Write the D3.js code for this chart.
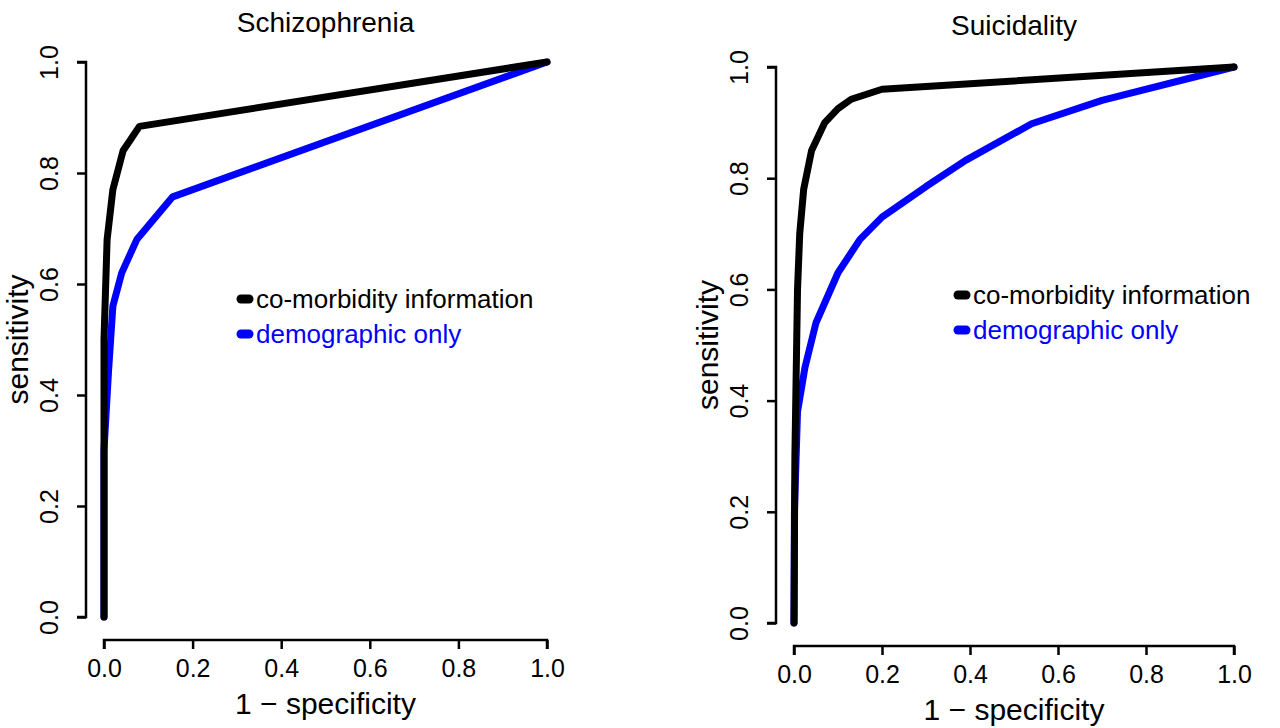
<!DOCTYPE html>
<html><head><meta charset="utf-8">
<script src="https://cdn.jsdelivr.net/npm/d3@7"></script>
<style>body{margin:0;background:#fff}text{font-family:"Liberation Sans",Arial,sans-serif}</style>
</head><body><svg id="c" width="1280" height="728"></svg>
<script>
'use strict'
var ticks = [0, 0.2, 0.4, 0.6, 0.8, 1.0]
var schizoComorb = [[0, 0], [0, 0.5], [0.007, 0.68], [0.02, 0.77], [0.043, 0.84], [0.08, 0.884], [1, 1]]
var schizoDemo = [[0, 0], [0, 0.3], [0.01, 0.44], [0.02, 0.56], [0.04, 0.62], [0.074, 0.68], [0.155, 0.757], [1, 1]]
var suicComorb = [[0, 0], [0.002, 0.3], [0.008, 0.6], [0.013, 0.7], [0.022, 0.78], [0.04, 0.85], [0.07, 0.9], [0.1, 0.925], [0.13, 0.942], [0.2, 0.96], [1, 1]]
var suicDemo = [[0, 0], [0.001, 0.2], [0.008, 0.38], [0.025, 0.46], [0.05, 0.54], [0.1, 0.63], [0.15, 0.69], [0.2, 0.73], [0.3, 0.785], [0.39, 0.832], [0.54, 0.898], [0.7, 0.94], [1, 1]]
var legendLabels = ['co-morbidity information', 'demographic only']
var colors = ['#000', '#0000ff']

var svg = d3.select('#c')

function panel (o) {
  var x = d3.scaleLinear().domain([0, 1]).range([o.x0, o.x1])
  var y = d3.scaleLinear().domain([0, 1]).range([o.y0, o.y1])
  var g = svg.append('g')

  var ya = g.append('g').attr('transform', 'translate(' + (o.x0 - 18) + ',0)')
    .call(d3.axisLeft(y).tickValues(ticks).tickFormat(d3.format('.1f')).tickSize(9).tickPadding(8))
  var xa = g.append('g').attr('transform', 'translate(0,' + (o.y0 + 23) + ')')
    .call(d3.axisBottom(x).tickValues(ticks).tickFormat(d3.format('.1f')).tickSize(9).tickPadding(10))
  ;[ya, xa].forEach(a => {
    a.attr('font-size', null)
    a.select('.domain').attr('stroke-width', 2.5)
    a.selectAll('.tick line').attr('stroke-width', 2.5)
    a.selectAll('text').style('font-size', '25px').attr('fill', '#000')
  })
  ya.selectAll('.tick text').attr('text-anchor', 'middle')
    .attr('x', 0).attr('y', 0).attr('dy', '0.35em')
    .attr('transform', 'translate(-37,0) rotate(-90)')
  ya.select('.domain').attr('d', 'M-9,' + y(0) + 'H0V' + y(1) + 'H-9')
  xa.select('.domain').attr('d', 'M' + x(0) + ',9V0H' + x(1) + 'V9')

  var line = d3.line().x(d => x(d[0])).y(d => y(d[1]))
  ;[o.demo, o.comorb].forEach((s, i) => {
    g.append('path').datum(s).attr('d', line).attr('fill', 'none')
      .attr('stroke', colors[1 - i]).attr('stroke-width', 7).attr('stroke-linejoin', 'round').attr('stroke-linecap', 'round')
  })

  g.append('text').attr('x', (o.x0 + o.x1) / 2).attr('y', o.ty).attr('text-anchor', 'middle').style('font-size', '28px').text(o.title)
  g.append('text').attr('x', (o.x0 + o.x1) / 2).attr('y', o.y0 + 97).attr('text-anchor', 'middle').style('font-size', '30px').text('1 \u2212 specificity')
  g.append('text').attr('transform', 'translate(' + (o.x0 - 76) + ',' + (o.y0 + o.y1) / 2 + ') rotate(-90)')
    .attr('text-anchor', 'middle').style('font-size', '30px').text('sensitivity')

  legendLabels.forEach((t, i) => {
    var ly = o.ly + i * 35
    g.append('line').attr('x1', o.lx).attr('x2', o.lx + 8).attr('y1', ly).attr('y2', ly)
      .attr('stroke', colors[i]).attr('stroke-width', 9).attr('stroke-linecap', 'round')
    g.append('text').attr('x', o.lx + 15).attr('y', ly).attr('dy', '0.35em').style('font-size', '26px')
      .attr('fill', colors[i]).text(t)
  })
}

panel({ x0: 104, x1: 547, y0: 617, y1: 62, ty: 32, title: 'Schizophrenia', comorb: schizoComorb, demo: schizoDemo, lx: 241, ly: 299 })
panel({ x0: 794, x1: 1234, y0: 623, y1: 67, ty: 35, title: 'Suicidality', comorb: suicComorb, demo: suicDemo, lx: 958, ly: 295 })
</script></body></html>
